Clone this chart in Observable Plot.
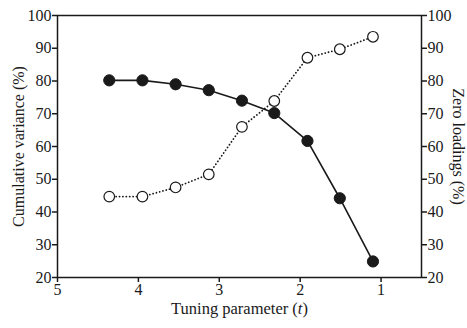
<!DOCTYPE html>
<html>
<head>
<meta charset="utf-8">
<script src="https://cdn.jsdelivr.net/npm/d3@7"></script>
<script src="https://cdn.jsdelivr.net/npm/@observablehq/plot@0.6"></script>
<style>
  html, body { margin: 0; padding: 0; background: #fff; }
  svg { display: block; }
</style>
</head>
<body>
<div id="chart"></div>
<script>
const tuning = [4.36, 3.95, 3.54, 3.13, 2.72, 2.32, 1.91, 1.51, 1.10];
const cumulativeVariance = [80.2, 80.2, 79.0, 77.2, 74.0, 70.2, 61.7, 44.2, 24.9];
const zeroLoadings = [44.7, 44.7, 47.5, 51.5, 66.0, 73.9, 87.1, 89.7, 93.5];
const xTicks = [5, 4, 3, 2, 1];
const yTicks = [20, 30, 40, 50, 60, 70, 80, 90, 100];

const cv = tuning.map((t, i) => ({t, v: cumulativeVariance[i]}));
const zl = tuning.map((t, i) => ({t, v: zeroLoadings[i]}));

const font = "'Liberation Serif', 'Times New Roman', serif";
const ink = "#1a1a1a";

const chart = Plot.plot({
  width: 467,
  height: 328,
  marginLeft: 57,
  marginRight: 46,
  marginTop: 15,
  marginBottom: 51,
  style: {fontFamily: font, fontSize: "16px", color: ink, background: "#fff"},
  x: {domain: [5, 0.5], ticks: xTicks},
  y: {domain: [20, 100], ticks: yTicks},
  marks: [
    Plot.frame({stroke: ink, strokeWidth: 1.5}),
    Plot.axisX({ticks: xTicks, tickFormat: d3.format("d"), tickSize: 5, tickPadding: 1, label: null, fontSize: 16, stroke: ink, strokeWidth: 1.5}),
    Plot.axisY({anchor: "left", ticks: yTicks, tickFormat: d3.format("d"), tickSize: 5, tickPadding: 1, label: null, fontSize: 16, stroke: ink, strokeWidth: 1.5}),
    Plot.axisY({anchor: "right", ticks: yTicks, tickFormat: d3.format("d"), tickSize: 5, tickPadding: 1, label: null, fontSize: 16, stroke: ink, strokeWidth: 1.5}),
    Plot.line(zl, {x: "t", y: "v", stroke: ink, strokeWidth: 1.8, strokeDasharray: "0.1,3.3", strokeLinecap: "round"}),
    Plot.line(cv, {x: "t", y: "v", stroke: ink, strokeWidth: 1.6}),
    Plot.dot(zl, {x: "t", y: "v", r: 5.3, fill: "#fff", stroke: ink, strokeWidth: 1.2}),
    Plot.dot(cv, {x: "t", y: "v", r: 5.6, fill: ink, stroke: ink, strokeWidth: 1}),
    Plot.text(["Cumulative variance (%)"], {frameAnchor: "left", dx: -39, rotate: -90, fontSize: 16, fill: ink, textAnchor: "middle"}),
    Plot.text(["Zero loadings (%)"], {frameAnchor: "right", dx: 37, rotate: 90, fontSize: 16, fill: ink, textAnchor: "middle"}),
    Plot.text(["Tuning parameter (t)"], {frameAnchor: "bottom", dy: 36, fontSize: 16.5, fill: ink, textAnchor: "middle"})
  ]
});
document.getElementById("chart").appendChild(chart);
// italic t
const lbl = Array.from(chart.querySelectorAll("text")).find(el => el.textContent === "Tuning parameter (t)");
if (lbl) {
  lbl.textContent = "";
  const ns = "http://www.w3.org/2000/svg";
  const a = document.createElementNS(ns, "tspan"); a.textContent = "Tuning parameter (";
  const b = document.createElementNS(ns, "tspan"); b.textContent = "t"; b.setAttribute("font-style", "italic");
  const c = document.createElementNS(ns, "tspan"); c.textContent = ")";
  lbl.append(a, b, c);
}
</script>
</body>
</html>
